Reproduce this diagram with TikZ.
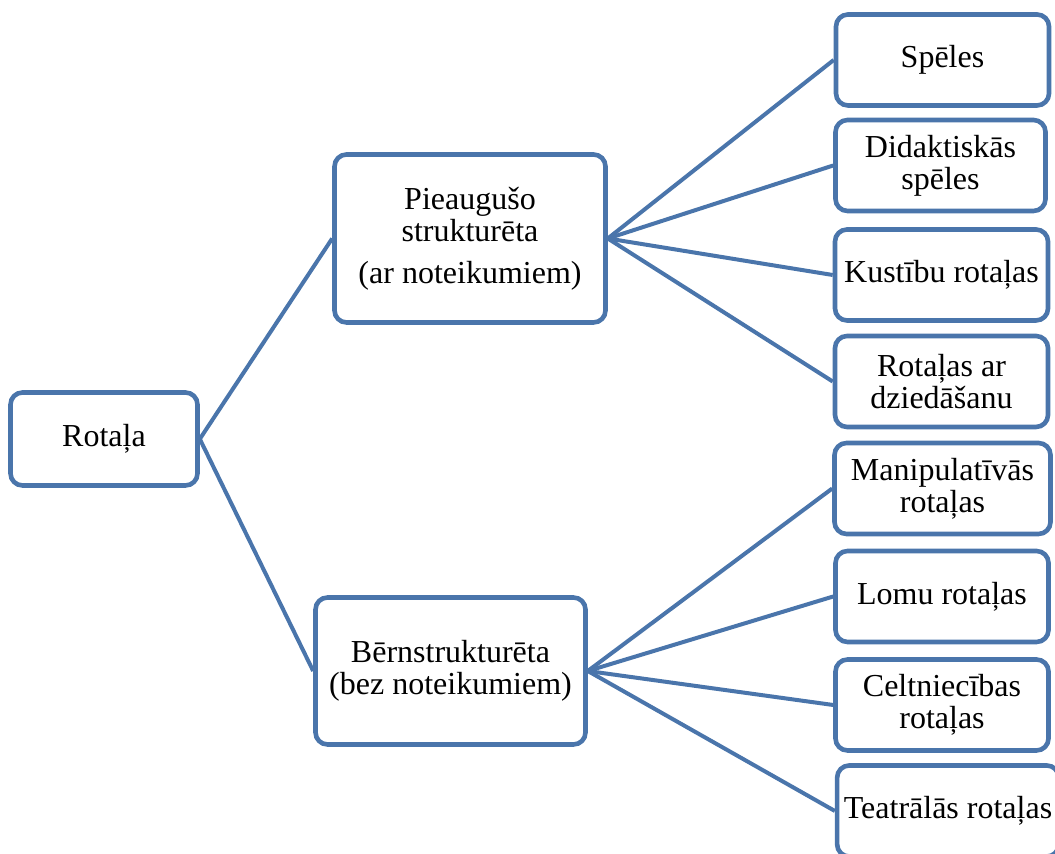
\documentclass[tikz,border=0pt]{standalone}
\usepackage{fontspec}
\setmainfont{Liberation Serif}
\definecolor{steelblue}{RGB}{74,117,171}

\begin{document}
\begin{tikzpicture}[x=0.5pt, y=-0.5pt,
  box/.style={draw=steelblue, line width=2.3pt, rounded corners=6pt, fill=white,
    align=center, font=\fontsize{16}{16}\selectfont},
  leaf/.style={box, minimum width=106.5pt, minimum height=45.5pt},
  link/.style={draw=steelblue, line width=2pt}]

  \useasboundingbox (0,0) rectangle (1055,854);

  \draw[]
   (104,439) node[box, minimum width=93.5pt, minimum height=46.5pt] (rotala) {Rotaļa}
   (470,238.5) node[box, minimum width=135.5pt, minimum height=84pt] (pieaug) {Pieaugušo\\strukturēta\\[5pt](ar noteikumiem)}
   (450.5,671) node[box, minimum width=135pt, minimum height=73.5pt] (bern) {Bērnstrukturēta\\(bez noteikumiem)};

  \draw[]
   (942.5,60) node[leaf] (speles) {Spēles}
   (940.5,165.5) node[leaf, minimum width=105pt] (didakt) {Didaktiskās\\spēles}
   (941.5,275) node[leaf] (kustibu) {Kustību rotaļas}
   (941.5,381.5) node[leaf] (dzied) {Rotaļas ar\\dziedāšanu}
   (942.5,488.5) node[leaf, minimum width=108pt] (manip) {Manipulatīvās\\rotaļas}
   (942,596.5) node[leaf] (lomu) {Lomu rotaļas}
   (942,705) node[leaf] (celtn) {Celtniecības\\rotaļas}
   (948,811) node[leaf] (teatr) {Teatrālās rotaļas};

  %links behind the boxes
  \begin{scope}[on background layer/.try]
  \draw[link]
   (rotala.east) edge (pieaug.west)
   (rotala.east) edge (bern.west);
  \draw[link]
   (pieaug.east) edge (speles.west)
   (pieaug.east) edge (didakt.west)
   (pieaug.east) edge (kustibu.west)
   (pieaug.east) edge (dzied.west)
   (bern.east) edge (manip.west)
   (bern.east) edge (lomu.west)
   (bern.east) edge (celtn.west)
   (bern.east) edge (teatr.west);
  \end{scope}
\end{tikzpicture}
\end{document}
